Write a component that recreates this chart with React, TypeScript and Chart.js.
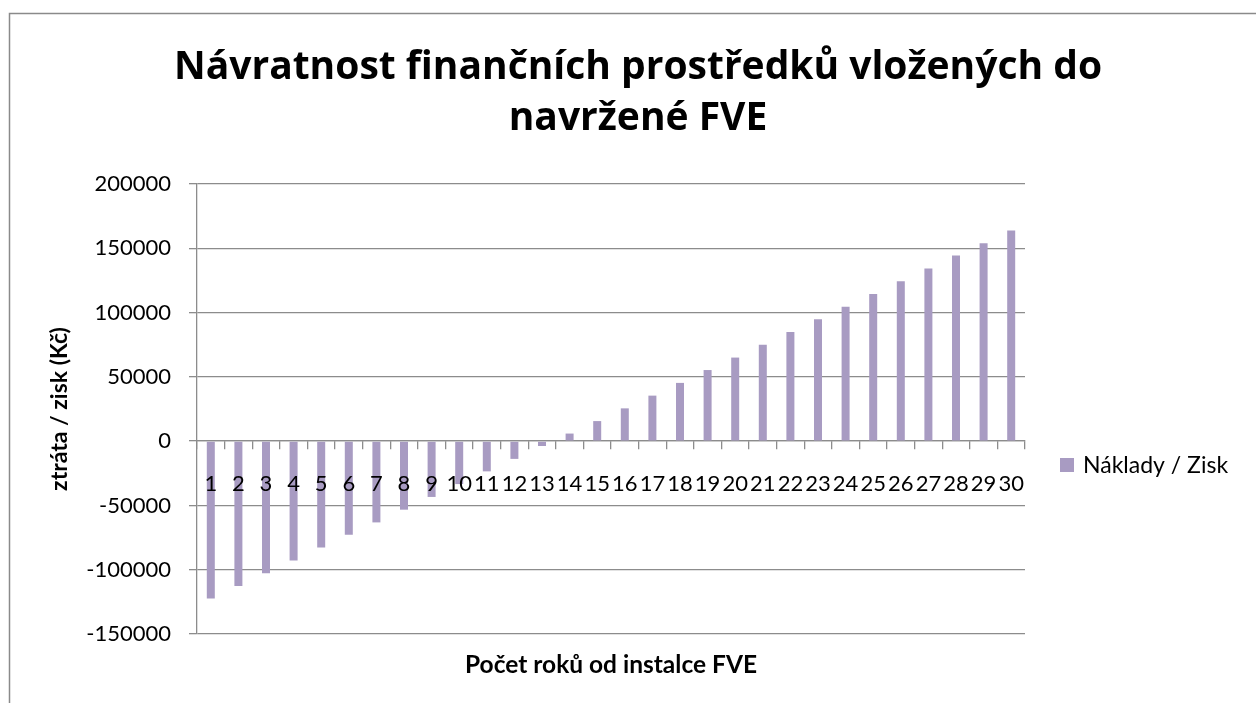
import React, { useEffect, useRef } from "react";
import { Chart, registerables } from "chart.js";

Chart.register(...registerables);

const years: string[] = [
  "1", "2", "3", "4", "5", "6", "7", "8", "9", "10",
  "11", "12", "13", "14", "15", "16", "17", "18", "19", "20",
  "21", "22", "23", "24", "25", "26", "27", "28", "29", "30",
];

const balance: number[] = [
  -122300, -112600, -102700, -92800, -82800, -72900, -63200, -53300, -43400, -33400,
  -23500, -13800, -3800, 5900, 15600, 25500, 35400, 45300, 55300, 65000,
  74900, 84900, 94800, 104500, 114400, 124400, 134300, 144300, 153900, 163800,
];

const titleLines: string[] = [
  "Návratnost finančních prostředků vložených do",
  "navržené FVE",
];
const seriesName = "Náklady / Zisk";
const xTitle = "Počet roků od instalce FVE";
const yTitle = "ztráta / zisk (Kč)";

const BAR = "#A89BC2";
const GRID = "#8c8c8c";
const FONT = "Lato";
const TITLE_FONT = "'Open Sans'";

const framePlugin = {
  id: "frame",
  beforeDraw(chart: any) {
    const { ctx, width, height } = chart;
    ctx.save();
    ctx.fillStyle = "#ffffff";
    ctx.fillRect(0, 0, width, height);
    ctx.strokeStyle = "#8a8a8a";
    ctx.lineWidth = 1.5;
    ctx.beginPath();
    ctx.moveTo(9.5, height + 5);
    ctx.lineTo(9.5, 13.5);
    ctx.lineTo(width + 5, 13.5);
    ctx.stroke();
    ctx.restore();
  },
  afterDraw(chart: any) {
    const { ctx } = chart;
    const ds = chart.data.datasets[0];
    ctx.save();
    ctx.fillStyle = ds.backgroundColor;
    ctx.fillRect(1060, 458, 14, 14);
    ctx.fillStyle = "#000000";
    ctx.font = `23px ${FONT}`;
    ctx.textBaseline = "middle";
    ctx.textAlign = "left";
    ctx.fillText(ds.label, 1083, 466);
    ctx.restore();
  },
};

export default function App() {
  const ref = useRef<HTMLCanvasElement | null>(null);

  useEffect(() => {
    document.body.style.margin = "0";
    if (!ref.current) return;
    const chart = new Chart(ref.current, {
      type: "bar",
      data: {
        labels: years,
        datasets: [
          {
            label: seriesName,
            data: balance,
            backgroundColor: BAR,
            borderWidth: 0,
            barPercentage: 0.29,
            categoryPercentage: 1,
            xAxisID: "x",
            yAxisID: "y",
          },
        ],
      },
      options: {
        responsive: false,
        animation: false,
        layout: { padding: { left: 20, right: 0, top: 0, bottom: 0 } },
        plugins: {
          legend: { display: false },
          tooltip: { enabled: false },
          title: {
            display: true,
            text: titleLines,
            color: "#000000",
            font: { family: TITLE_FONT, size: 39, weight: "bold", lineHeight: "51px" },
            padding: { top: 42, bottom: 40 },
          },
        },
        scales: {
          x: {
            type: "category",
            position: { y: 0 } as any,
            offset: true,
            grid: {
              display: true,
              drawOnChartArea: false,
              drawTicks: true,
              tickLength: 8,
              color: GRID,
              lineWidth: 1.3,
              offset: true,
            },
            border: { display: true, color: GRID, width: 1.3 },
            ticks: {
              z: 1,
              autoSkip: false,
              maxRotation: 0,
              minRotation: 0,
              padding: 22,
              color: "#000000",
              font: { family: FONT, size: 22 },
            },
          },
          x2: {
            type: "category",
            position: "bottom",
            labels: years,
            grid: { display: false },
            border: { display: false },
            ticks: { display: false },
            title: {
              display: true,
              text: xTitle,
              color: "#000000",
              font: { family: FONT, size: 24.5, weight: "bold", lineHeight: "28px" },
              padding: { top: 9, bottom: 24 },
            },
          },
          y: {
            type: "linear",
            position: "left",
            min: -150000,
            max: 200000,
            afterFit: (s: any) => {
              s.width = 177;
            },
            grid: {
              color: GRID,
              lineWidth: 1.3,
              drawTicks: true,
              tickLength: 8,
            },
            border: { display: true, color: GRID, width: 1.3 },
            ticks: {
              stepSize: 50000,
              padding: 18,
              color: "#000000",
              font: { family: FONT, size: 22 },
              callback: (v: any) => String(v),
            },
            title: {
              display: true,
              text: yTitle,
              color: "#000000",
              font: { family: FONT, size: 23, weight: "bold", lineHeight: "26px" },
              padding: { top: 27, bottom: 0 },
            },
          },
          y2: {
            type: "linear",
            position: "right",
            min: -150000,
            max: 200000,
            afterFit: (s: any) => {
              s.width = 231;
            },
            grid: { display: false },
            border: { display: false },
            ticks: { display: false },
          },
        },
      },
      plugins: [framePlugin],
    });
    return () => chart.destroy();
  }, []);

  return (
    <div style={{ width: 1256, height: 703 }}>
      <canvas ref={ref} width={1256} height={703} style={{ display: "block" }} />
    </div>
  );
}
